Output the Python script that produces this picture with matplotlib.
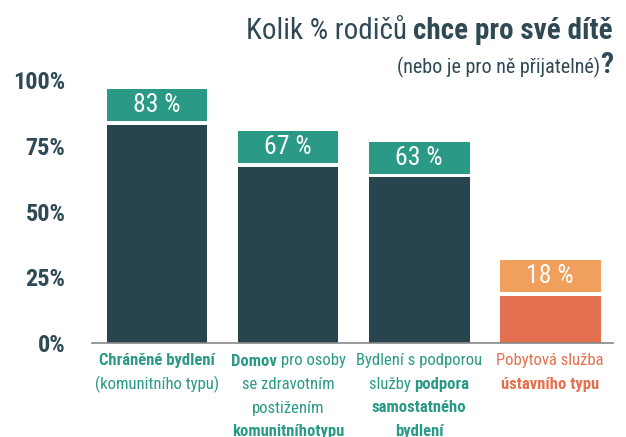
import matplotlib.pyplot as plt

plt.rcParams['font.family'] = ['Roboto Condensed', 'Roboto', 'DejaVu Sans']

# data
categories = ["Chráněné bydlení", "Domov pro osoby", "Bydlení s podporou", "Pobytová služba"]
values = [0.83, 0.67, 0.63, 0.18]
value_labels = ["83 %", "67 %", "63 %", "18 %"]
yticks = [0, 0.25, 0.5, 0.75, 1.0]
ytick_labels = ["0%", "25%", "50%", "75%", "100%"]

DARK = "#27444f"
TEAL = "#2a9a87"
ORANGE = "#f0a05c"
RED = "#e5704f"
TEXT = "#2f4a55"

bar_colors = [DARK, DARK, DARK, RED]
box_colors = [TEAL, TEAL, TEAL, ORANGE]

# label lines: list of (text, weight, color) segments per line
cat_lines = [
    [[("Chráněné bydlení", "bold", TEAL)],
     [("(komunitního typu)", "normal", TEAL)]],
    [[("Domov", "bold", TEAL), (" pro osoby", "normal", TEAL)],
     [("se zdravotním", "normal", TEAL)],
     [("postižením", "normal", TEAL)],
     [("komunitníhotypu", "bold", TEAL)]],
    [[("Bydlení s podporou", "normal", TEAL)],
     [("služby ", "normal", TEAL), ("podpora", "bold", TEAL)],
     [("samostatného", "bold", TEAL)],
     [("bydlení", "bold", TEAL)]],
    [[("Pobytová služba", "normal", RED)],
     [("ústavního typu", "bold", RED)]],
]

fig = plt.figure(figsize=(6.26, 4.37), dpi=100)
ax = fig.add_axes([92 / 626, 94 / 437, 521 / 626, 263 / 437])

x = list(range(len(categories)))
ax.bar(x, values, width=0.77, color=bar_colors, zorder=2)
box_h = 0.122
ax.bar(x, [box_h] * len(x), bottom=[v + 0.014 for v in values], width=0.77,
       color=box_colors, zorder=2)
for i, v in enumerate(values):
    ax.text(i, v + 0.014 + box_h / 2, value_labels[i], ha="center", va="center",
            color="white", fontsize=18.5, zorder=3)

ax.set_xlim(-0.496, 3.48)
ax.set_ylim(0, 1.0)
ax.set_yticks(yticks)
ax.set_yticklabels(ytick_labels, fontsize=17.5, fontweight="bold", color=TEXT)
ax.set_xticks([])
ax.tick_params(axis="y", length=0, pad=19)
for s in ["top", "right", "left"]:
    ax.spines[s].set_visible(False)
ax.spines["bottom"].set_color("#888888")
ax.spines["bottom"].set_linewidth(1.2)

# category labels, with mixed weights
fig.canvas.draw()
renderer = fig.canvas.get_renderer()
for i, lines in enumerate(cat_lines):
    cx = ax.transData.transform((i, 0))[0]
    for j, segs in enumerate(lines):
        ypix = 437 - 361 - j * 23.5
        texts = []
        total = 0
        for s, w, c in segs:
            t = fig.text(0, ypix / 437, s, fontsize=12, fontweight=w, color=c,
                         va="center", ha="left")
            wdt = t.get_window_extent(renderer).width
            texts.append((t, wdt))
            total += wdt
        xpos = cx - total / 2
        for t, wdt in texts:
            t.set_x(xpos / 626)
            xpos += wdt

# title
t2 = fig.text(613 / 626, 1 - 31 / 437, "chce pro své dítě", fontsize=21,
              fontweight="bold", color=TEXT, ha="right", va="center")
w2 = t2.get_window_extent(renderer).width
fig.text((613 - w2) / 626, 1 - 31 / 437, "Kolik % rodičů ", fontsize=21,
         color=TEXT, ha="right", va="center")
q = fig.text(613 / 626, 1 - 65 / 437, "?", fontsize=21, fontweight="bold",
             color=TEXT, ha="right", va="center")
wq = q.get_window_extent(renderer).width
fig.text((613 - wq) / 626, 1 - 67 / 437, "(nebo je pro ně přijatelné)", fontsize=14.5,
         color=TEXT, ha="right", va="center")

fig.savefig("out.png", dpi=100)
